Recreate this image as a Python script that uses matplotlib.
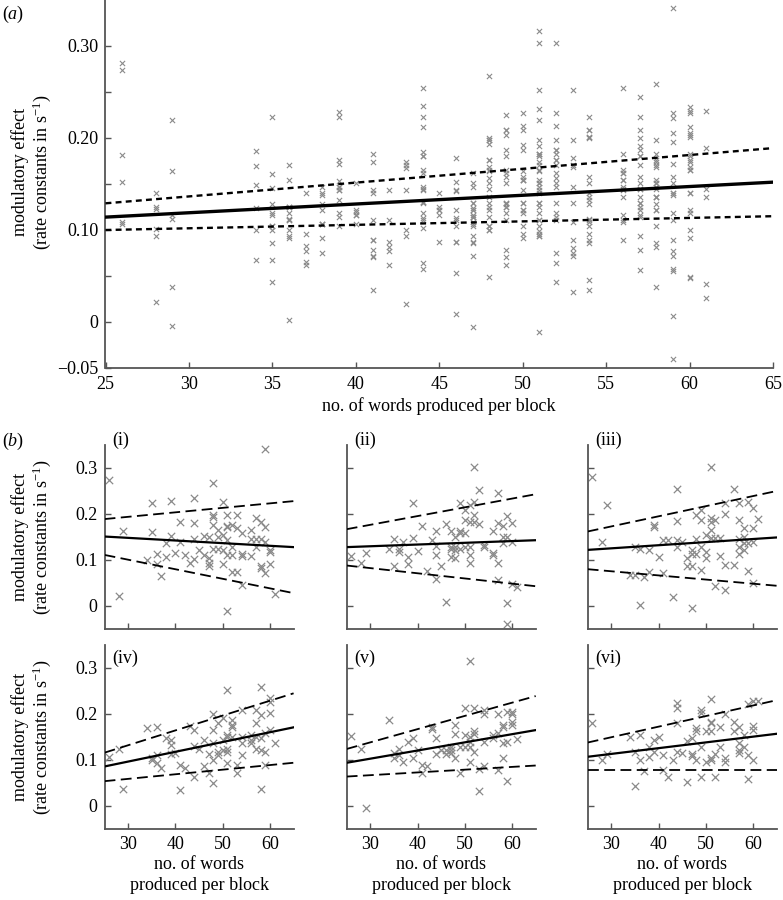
import numpy as np
import matplotlib
matplotlib.use("Agg")
import matplotlib.pyplot as plt

plt.rcParams["font.family"] = ["Liberation Serif", "DejaVu Serif"]
plt.rcParams["font.size"] = 13
plt.rcParams["mathtext.fontset"] = "custom"
plt.rcParams["mathtext.rm"] = "Liberation Serif"
plt.rcParams["mathtext.it"] = "Liberation Serif:italic"

# --- data (x = words per block, y = effect)
pts_i = [(26, 0.274), (28, 0.022), (29, 0.164), (34, 0.100), (35, 0.223), (35, 0.161),
         (36, 0.112), (36, 0.091), (37, 0.065), (38, 0.107), (38, 0.138), (39, 0.228),
         (39, 0.153), (40, 0.116), (41, 0.183), (41, 0.140), (42, 0.111), (43, 0.094),
         (44, 0.235), (44, 0.180), (44, 0.145), (44, 0.102), (45, 0.122), (46, 0.152),
         (46, 0.111), (47, 0.151), (47, 0.104), (47, 0.093), (47, 0.087), (48, 0.267),
         (48, 0.198), (48, 0.194), (48, 0.176), (48, 0.125), (49, 0.165), (49, 0.151),
         (49, 0.125), (50, 0.227), (50, 0.154), (50, 0.122), (50, 0.091), (51, 0.198),
         (51, 0.174), (51, 0.171), (51, 0.143), (51, 0.111), (51, -0.011), (52, 0.176),
         (52, 0.129), (52, 0.111), (52, 0.075), (53, 0.198), (53, 0.169), (53, 0.075),
         (54, 0.158), (54, 0.112), (54, 0.109), (54, 0.046), (56, 0.165), (56, 0.145),
         (56, 0.109), (57, 0.191), (57, 0.145), (57, 0.129), (58, 0.183), (58, 0.145),
         (58, 0.086), (58, 0.082), (59, 0.341), (59, 0.172), (59, 0.140), (59, 0.072),
         (60, 0.122), (60, 0.118), (60, 0.091), (61, 0.026)]

pts_ii = [(26, 0.109), (28, 0.093), (29, 0.116), (34, 0.124), (35, 0.146), (35, 0.086),
          (36, 0.125), (36, 0.118), (37, 0.140), (38, 0.107), (38, 0.091), (39, 0.223),
          (39, 0.147), (40, 0.120), (41, 0.174), (42, 0.077), (43, 0.143), (44, 0.162),
          (44, 0.130), (44, 0.111), (44, 0.058), (45, 0.087), (46, 0.178), (46, 0.009),
          (47, 0.162), (47, 0.129), (47, 0.124), (47, 0.107), (48, 0.151), (48, 0.129),
          (48, 0.122), (48, 0.104), (49, 0.225), (49, 0.162), (49, 0.158), (49, 0.125),
          (50, 0.209), (50, 0.187), (50, 0.158), (50, 0.129), (51, 0.220), (51, 0.183),
          (51, 0.129), (51, 0.111), (51, 0.093), (52, 0.303), (52, 0.227), (52, 0.198),
          (52, 0.183), (53, 0.252), (53, 0.178), (54, 0.133), (54, 0.128), (56, 0.162),
          (56, 0.116), (56, 0.111), (57, 0.245), (57, 0.180), (57, 0.094), (57, 0.057),
          (58, 0.174), (58, 0.151), (58, 0.136), (59, 0.196), (59, 0.151), (59, 0.006),
          (59, -0.040), (60, 0.180), (60, 0.140), (60, 0.048), (61, 0.041)]

pts_iii = [(26, 0.281), (28, 0.140), (29, 0.220), (34, 0.067), (35, 0.067), (35, 0.128),
           (36, 0.125), (36, 0.002), (37, 0.062), (38, 0.122), (38, 0.075), (39, 0.176),
           (39, 0.172), (40, 0.107), (41, 0.143), (41, 0.072), (42, 0.143), (43, 0.020),
           (44, 0.254), (44, 0.185), (44, 0.143), (44, 0.129), (45, 0.140), (46, 0.104),
           (46, 0.087), (47, 0.122), (47, 0.114), (47, 0.086), (47, -0.005), (48, 0.198),
           (48, 0.145), (48, 0.114), (49, 0.209), (49, 0.187), (49, 0.129), (49, 0.078),
           (50, 0.154), (50, 0.118), (50, 0.104), (51, 0.303), (51, 0.191), (51, 0.183),
           (51, 0.165), (51, 0.147), (52, 0.187), (52, 0.147), (52, 0.043), (53, 0.147),
           (53, 0.109), (54, 0.223), (54, 0.201), (54, 0.089), (54, 0.035), (56, 0.254),
           (56, 0.089), (57, 0.223), (57, 0.187), (57, 0.145), (57, 0.129), (57, 0.114),
           (58, 0.169), (58, 0.151), (58, 0.136), (58, 0.122), (59, 0.227), (59, 0.138),
           (59, 0.077), (60, 0.212), (60, 0.169), (60, 0.140), (60, 0.049), (61, 0.189)]

pts_iv = [(26, 0.107), (28, 0.123), (29, 0.038), (34, 0.170), (35, 0.104), (35, 0.100),
          (36, 0.171), (36, 0.111), (36, 0.094), (37, 0.083), (38, 0.147), (39, 0.143),
          (39, 0.133), (39, 0.114), (40, 0.116), (41, 0.035), (41, 0.089), (42, 0.082),
          (43, 0.174), (44, 0.165), (44, 0.130), (44, 0.064), (45, 0.125), (46, 0.143),
          (46, 0.087), (47, 0.114), (47, 0.072), (48, 0.200), (48, 0.165), (48, 0.136),
          (48, 0.100), (48, 0.049), (49, 0.180), (49, 0.118), (49, 0.111), (50, 0.192),
          (50, 0.143), (50, 0.122), (51, 0.252), (51, 0.154), (51, 0.151), (51, 0.125),
          (51, 0.118), (51, 0.093), (52, 0.187), (52, 0.176), (52, 0.171), (52, 0.151),
          (53, 0.089), (53, 0.072), (54, 0.209), (54, 0.151), (54, 0.136), (54, 0.111),
          (56, 0.154), (56, 0.143), (56, 0.136), (57, 0.209), (57, 0.180), (57, 0.151),
          (57, 0.125), (58, 0.259), (58, 0.198), (58, 0.147), (58, 0.122), (58, 0.038),
          (59, 0.158), (59, 0.118), (59, 0.089), (60, 0.234), (60, 0.227), (60, 0.203),
          (60, 0.165), (61, 0.136)]

pts_v = [(26, 0.152), (28, 0.125), (29, -0.004), (34, 0.186), (35, 0.116), (35, 0.104),
         (36, 0.125), (36, 0.111), (37, 0.096), (38, 0.140), (39, 0.147), (39, 0.104),
         (40, 0.122), (41, 0.089), (41, 0.071), (42, 0.087), (43, 0.171), (43, 0.167),
         (44, 0.147), (44, 0.113), (45, 0.122), (46, 0.122), (46, 0.113), (47, 0.129),
         (47, 0.122), (47, 0.116), (48, 0.176), (48, 0.156), (48, 0.104), (49, 0.128),
         (49, 0.071), (50, 0.213), (50, 0.154), (50, 0.129), (51, 0.316), (51, 0.151),
         (51, 0.140), (51, 0.129), (51, 0.096), (52, 0.213), (52, 0.162), (52, 0.157),
         (52, 0.118), (53, 0.033), (53, 0.080), (54, 0.209), (54, 0.200), (54, 0.140),
         (54, 0.086), (56, 0.154), (56, 0.147), (57, 0.200), (57, 0.158), (57, 0.078),
         (58, 0.176), (58, 0.171), (58, 0.136), (58, 0.104), (59, 0.205), (59, 0.140),
         (59, 0.055), (60, 0.205), (60, 0.201), (60, 0.183), (60, 0.176), (61, 0.145)]

pts_vi = [(26, 0.181), (28, 0.101), (29, 0.112), (34, 0.149), (35, 0.118), (35, 0.043),
          (36, 0.154), (36, 0.100), (37, 0.077), (38, 0.128), (38, 0.107), (39, 0.143),
          (39, 0.118), (40, 0.151), (41, 0.111), (41, 0.078), (42, 0.062), (43, 0.100),
          (44, 0.223), (44, 0.212), (44, 0.180), (44, 0.118), (45, 0.116), (46, 0.142),
          (46, 0.053), (47, 0.147), (47, 0.114), (47, 0.109), (48, 0.169), (48, 0.164),
          (48, 0.100), (49, 0.209), (49, 0.203), (49, 0.129), (49, 0.062), (50, 0.164),
          (50, 0.096), (51, 0.232), (51, 0.183), (51, 0.180), (51, 0.164), (51, 0.104),
          (51, 0.099), (52, 0.114), (52, 0.064), (53, 0.171), (53, 0.129), (54, 0.201),
          (54, 0.104), (54, 0.096), (56, 0.183), (56, 0.162), (57, 0.171), (57, 0.136),
          (57, 0.122), (57, 0.116), (58, 0.154), (58, 0.128), (59, 0.222), (59, 0.111),
          (59, 0.058), (60, 0.229), (60, 0.174), (60, 0.165), (60, 0.100), (61, 0.229)]

# regression line and bounds, value at x = 25 and x = 65
fit_x = [25, 65]
fit_all = {"mid": [0.114, 0.152], "up": [0.129, 0.189], "lo": [0.100, 0.115]}
fit_i = {"mid": [0.151, 0.128], "up": [0.189, 0.228], "lo": [0.111, 0.028]}
fit_ii = {"mid": [0.128, 0.143], "up": [0.167, 0.243], "lo": [0.088, 0.043]}
fit_iii = {"mid": [0.122, 0.149], "up": [0.162, 0.250], "lo": [0.080, 0.044]}
fit_iv = {"mid": [0.086, 0.171], "up": [0.116, 0.245], "lo": [0.054, 0.094]}
fit_v = {"mid": [0.094, 0.165], "up": [0.124, 0.239], "lo": [0.064, 0.088]}
fit_vi = {"mid": [0.107, 0.157], "up": [0.138, 0.230], "lo": [0.078, 0.078]}

panel_names = ["(i)", "(ii)", "(iii)", "(iv)", "(v)", "(vi)"]
panel_pts = [pts_i, pts_ii, pts_iii, pts_iv, pts_v, pts_vi]
panel_fits = [fit_i, fit_ii, fit_iii, fit_iv, fit_v, fit_vi]

GREY = "#8a8a8a"
SPINE = "#555555"
W, H = 783, 900


def style_axes(ax):
    for s in ["top", "right"]:
        ax.spines[s].set_visible(False)
    for s in ["left", "bottom"]:
        ax.spines[s].set_color(SPINE)
        ax.spines[s].set_linewidth(1.3)
    ax.tick_params(direction="in", length=4, width=1.0, color=SPINE, pad=5)


def fig_rect(left, top, right, bottom):
    return [left / W, 1 - bottom / H, (right - left) / W, (bottom - top) / H]


fig = plt.figure(figsize=(W / 100, H / 100), dpi=100)
ylab = "modulatory effect\n(rate constants in s$^{-1}$)"

# ---- (a) all participants
ax = fig.add_axes(fig_rect(105.5, 0, 773, 368))
all_pts = np.array(sum(panel_pts, []))
ax.scatter(all_pts[:, 0], all_pts[:, 1], marker="x", s=14, linewidths=0.8, color=GREY, zorder=2)
ax.plot(fit_x, fit_all["mid"], color="black", lw=2.4, zorder=3)
ax.plot(fit_x, fit_all["up"], color="black", lw=1.7, ls=(0, (2.5, 1.8)), zorder=3)
ax.plot(fit_x, fit_all["lo"], color="black", lw=1.7, ls=(0, (2.5, 1.8)), zorder=3)
ax.set_xlim(25, 65)
ax.set_ylim(-0.05, 0.35)
ax.set_xticks(np.arange(25, 66, 5))
ax.set_yticks([-0.05, 0, 0.05, 0.10, 0.15, 0.20, 0.25, 0.30])
ax.set_yticklabels(["\u22120.05", "0", "", "0.10", "", "0.20", "", "0.30"])
style_axes(ax)
ax.tick_params(axis="x", pad=6)

fig.text(2 / W, 1 - 14 / H, "($\\mathit{a}$)", ha="left", va="center")
fig.text(32 / W, 1 - 172 / H, ylab, rotation=90, ha="center", va="center", linespacing=1.1)
fig.text(439 / W, 1 - 406 / H, "no. of words produced per block", ha="center", va="center")

# ---- (b) individual participants
fig.text(2 / W, 1 - 441 / H, "($\\mathit{b}$)", ha="left", va="center")
lefts = [104.6, 346.7, 587.7]
rows = [(445, 629), (645, 829)]
label_y = [440, 658]
for k, (name, pts, fit) in enumerate(zip(panel_names, panel_pts, panel_fits)):
    r, c = divmod(k, 3)
    top, bot = rows[r]
    ax = fig.add_axes(fig_rect(lefts[c], top, lefts[c] + 189, bot))
    p = np.array(pts)
    ax.scatter(p[:, 0], p[:, 1], marker="x", s=28, linewidths=0.9, color=GREY, zorder=2)
    ax.plot(fit_x, fit["mid"], color="black", lw=1.6, zorder=3)
    ax.plot(fit_x, fit["up"], color="black", lw=1.3, ls=(0, (6, 3)), zorder=3)
    ax.plot(fit_x, fit["lo"], color="black", lw=1.3, ls=(0, (6, 3)), zorder=3)
    ax.set_xlim(25, 65)
    ax.set_ylim(-0.05, 0.35)
    ax.set_xticks([30, 40, 50, 60])
    ax.set_yticks([0, 0.1, 0.2, 0.3])
    ax.set_yticklabels(["0", "0.1", "0.2", "0.3"])
    style_axes(ax)
    if c > 0:
        ax.set_yticklabels([])
    if r == 0:
        ax.set_xticklabels([])
    else:
        fig.text((lefts[c] + 94.5) / W, 1 - 875 / H, "no. of words\nproduced per block",
                 ha="center", va="center", linespacing=1.25)
    fig.text((lefts[c] + 8) / W, 1 - label_y[r] / H, name, ha="left", va="center")

for r, (top, bot) in enumerate(rows):
    fig.text(32 / W, 1 - (top + bot) / 2 / H, ylab, rotation=90, ha="center", va="center",
             linespacing=1.1)

fig.savefig("out.png", dpi=100)
